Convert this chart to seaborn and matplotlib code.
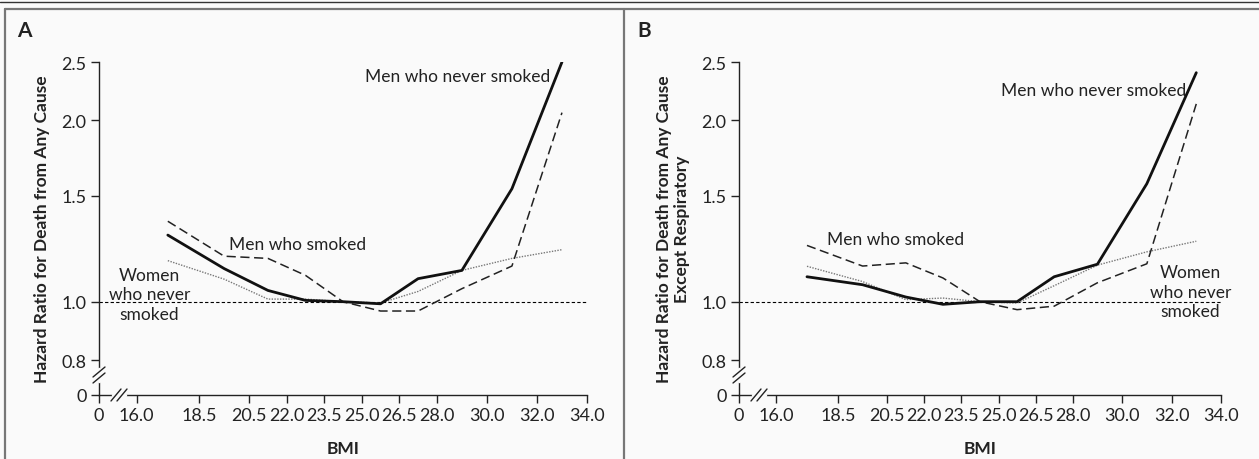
import seaborn as sns
import pandas as pd
import matplotlib.pyplot as plt
from matplotlib.lines import Line2D

# середины категорий ИМТ
bmi = [17.25, 19.5, 21.25, 22.75, 24.25, 25.75, 27.25, 29.0, 31.0, 33.0]

# панель A - смерть от любой причины
a_men_never = [1.29, 1.135, 1.044, 1.005, 1.0, 0.992, 1.092, 1.127, 1.54, 2.50]
a_men_smoked = [1.36, 1.19, 1.18, 1.106, 1.0, 0.965, 0.965, 1.051, 1.146, 2.06]
a_women_never = [1.17, 1.09, 1.01, 1.01, 1.0, 0.995, 1.04, 1.127, 1.18, 1.22]

# панель B - кроме респираторных
b_men_never = [1.10, 1.067, 1.018, 0.99, 1.0, 1.0, 1.10, 1.154, 1.57, 2.40]
b_men_smoked = [1.24, 1.146, 1.16, 1.095, 1.0, 0.97, 0.983, 1.075, 1.156, 2.13]
b_women_never = [1.145, 1.08, 1.008, 1.014, 1.0, 0.995, 1.063, 1.15, 1.21, 1.26]

x_ticks = [14.5, 16.0, 18.5, 20.5, 22.0, 23.5, 25.0, 26.5, 28.0, 30.0, 32.0, 34.0]
x_labels = ['0', '16.0', '18.5', '20.5', '22.0', '23.5', '25.0', '26.5', '28.0', '30.0', '32.0', '34.0']
y_ticks = [0.70, 0.8, 1.0, 1.5, 2.0, 2.5]
y_labels = ['0', '0.8', '1.0', '1.5', '2.0', '2.5']

bg = '#fafafa'
ink = '#222222'

sns.set_theme(style='white')
plt.rcParams['font.family'] = ['Lato', 'DejaVu Sans']
plt.rcParams['text.color'] = ink
plt.rcParams['axes.labelcolor'] = ink
plt.rcParams['xtick.color'] = ink
plt.rcParams['ytick.color'] = ink

fig = plt.figure(figsize=(12.59, 4.6), dpi=100, facecolor=bg)
axA = fig.add_axes([99 / 1259, 64 / 460, 488 / 1259, 333 / 460])
axB = fig.add_axes([739 / 1259, 64 / 460, 482 / 1259, 333 / 460])


def draw_panel(ax, men_never, men_smoked, women_never, ylabel):
    df = pd.DataFrame({'bmi': bmi, 'mn': men_never, 'ms': men_smoked, 'wn': women_never})
    ax.set_facecolor(bg)
    ax.axhline(1.0, color='black', lw=0.8, ls=(0, (3, 2)), zorder=1)
    sns.lineplot(data=df, x='bmi', y='wn', ax=ax, color='#777777', lw=1.0, ls=(0, (1, 1)))
    sns.lineplot(data=df, x='bmi', y='ms', ax=ax, color=ink, lw=1.1, ls=(0, (6, 3)))
    sns.lineplot(data=df, x='bmi', y='mn', ax=ax, color='#111111', lw=2.0)
    ax.set_yscale('log')
    ax.set_xlim(14.5, 34.0)
    ax.set_ylim(0.70, 2.5)
    ax.set_xticks(x_ticks)
    ax.set_xticklabels(x_labels)
    ax.set_yticks(y_ticks)
    ax.set_yticklabels(y_labels)
    ax.minorticks_off()
    ax.tick_params(axis='both', which='major', bottom=True, left=True, direction='out',
                   length=6, width=1, labelsize=13, pad=3, color=ink)
    ax.set_xlabel('BMI', fontsize=12.5, fontweight='bold', labelpad=12)
    ax.set_ylabel(ylabel, fontsize=12.5, fontweight='bold', labelpad=8)
    for s in ['top', 'right']:
        ax.spines[s].set_visible(False)
    for s in ['left', 'bottom']:
        ax.spines[s].set_color(ink)
        ax.spines[s].set_linewidth(1.0)
    # разрывы осей
    w = ax.bbox.width
    h = ax.bbox.height
    ax.plot([14 / w, 26 / w], [0, 0], transform=ax.transAxes, color=bg, lw=2.5, clip_on=False, zorder=3)
    for dx in (-3, 3):
        xc = (20 + dx) / w
        ax.plot([xc - 5 / w, xc + 5 / w], [-6 / h, 6 / h], transform=ax.transAxes,
                color=ink, lw=1, clip_on=False, zorder=4)
    ax.plot([0, 0], [14 / h, 26 / h], transform=ax.transAxes, color=bg, lw=2.5, clip_on=False, zorder=3)
    for dy in (-3, 3):
        yc = (20 + dy) / h
        ax.plot([-6 / w, 6 / w], [yc - 5 / h, yc + 5 / h], transform=ax.transAxes,
                color=ink, lw=1, clip_on=False, zorder=4)


draw_panel(axA, a_men_never, a_men_smoked, a_women_never, 'Hazard Ratio for Death from Any Cause')
draw_panel(axB, b_men_never, b_men_smoked, b_women_never,
           'Hazard Ratio for Death from Any Cause\nExcept Respiratory')

fs = 12.5
axA.text(32.52, 2.37, 'Men who never smoked', ha='right', va='center', fontsize=fs)
axA.text(19.68, 1.249, 'Men who smoked', ha='left', va='center', fontsize=fs)
axA.text(16.52, 1.028, 'Women\nwho never\nsmoked', ha='center', va='center', fontsize=fs, linespacing=1.25)
axB.text(32.61, 2.245, 'Men who never smoked', ha='right', va='center', fontsize=fs)
axB.text(18.06, 1.273, 'Men who smoked', ha='left', va='center', fontsize=fs)
axB.text(32.77, 1.039, 'Women\nwho never\nsmoked', ha='center', va='center', fontsize=fs, linespacing=1.25)

fig.text(17 / 1259, 1 - 31 / 460, 'A', fontsize=15, fontweight='bold', va='center')
fig.text(637 / 1259, 1 - 31 / 460, 'B', fontsize=15, fontweight='bold', va='center')

# рамки панелей
fig.add_artist(Line2D([0, 1], [1 - 3 / 460, 1 - 3 / 460], transform=fig.transFigure, color='#333333', lw=1.0))
fig.add_artist(Line2D([5 / 1259, 1], [1 - 10 / 460, 1 - 10 / 460], transform=fig.transFigure, color='#777777', lw=1.6))
fig.add_artist(Line2D([5 / 1259, 5 / 1259], [0, 1 - 10 / 460], transform=fig.transFigure, color='#777777', lw=1.6))
fig.add_artist(Line2D([624 / 1259, 624 / 1259], [0, 1 - 10 / 460], transform=fig.transFigure, color='#777777', lw=1.6))

fig.savefig('out.png', dpi=100, facecolor=bg)
